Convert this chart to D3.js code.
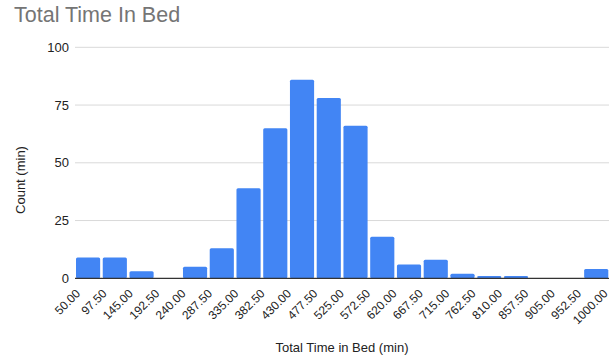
<!DOCTYPE html>
<html>
<head>
<meta charset="utf-8">
<script src="https://cdn.jsdelivr.net/npm/d3@7"></script>
<style>
  html, body { margin: 0; padding: 0; background: #fff; }
  svg { display: block; font-family: "Liberation Sans", Arial, sans-serif; }
</style>
</head>
<body>
<svg id="chart" width="611" height="357"></svg>
<script>
// Histogram of total time in bed: bin edges (minutes) and counts per bin
const binEdges = [50, 97.5, 145, 192.5, 240, 287.5, 335, 382.5, 430, 477.5, 525,
                  572.5, 620, 667.5, 715, 762.5, 810, 857.5, 905, 952.5, 1000];
const counts = [9, 9, 3, 0, 5, 13, 39, 65, 86, 78, 66, 18, 6, 8, 2, 1, 1, 0, 0, 4];
const yTicks = [0, 25, 50, 75, 100];
const titleText = "Total Time In Bed";
const xTitle = "Total Time in Bed (min)";
const yTitle = "Count (min)";

const svg = d3.select("#chart");
const plotLeft = 74.7, plotRight = 609.6, plotTop = 47.3, plotBottom = 278.3;

const x = d3.scaleLinear().domain([50, 1000]).range([plotLeft, plotRight]);
const y = d3.scaleLinear().domain([0, 100]).range([plotBottom, plotTop]);
// Bucket boundary labels sit on their own evenly spaced positions
const xLabel = d3.scalePoint().domain(binEdges).range([81, 608.4]);

// Title
svg.append("text")
  .attr("x", 14).attr("y", 22)
  .attr("font-size", 21.5).attr("fill", "#757575")
  .text(titleText);

// Horizontal gridlines
svg.append("g").selectAll("line")
  .data(yTicks.filter(d => d > 0))
  .join("line")
  .attr("x1", 75).attr("x2", 609)
  .attr("y1", d => y(d)).attr("y2", d => y(d))
  .attr("stroke", "#d9d9d9").attr("stroke-width", 1);

// Y axis labels
const yAxis = d3.axisLeft(y).tickValues(yTicks).tickSize(0).tickPadding(0);
const gy = svg.append("g").attr("transform", "translate(69,0)").call(yAxis);
gy.select(".domain").remove();
gy.selectAll("text").attr("font-size", 13).attr("fill", "#222")
  .attr("font-family", "Liberation Sans, Arial, sans-serif");

// Bars
const bins = counts.map((c, i) => ({ x0: binEdges[i], x1: binEdges[i + 1], c }));
svg.append("g").selectAll("rect")
  .data(bins.filter(d => d.c > 0))
  .join("rect")
  .attr("x", d => x(d.x0) + 1.3)
  .attr("width", d => x(d.x1) - x(d.x0) - 2.6)
  .attr("y", d => y(d.c))
  .attr("height", d => y(0) - y(d.c))
  .attr("rx", 1.5)
  .attr("fill", "#4285f4");

// Baseline
svg.append("line")
  .attr("x1", 75).attr("x2", 609)
  .attr("y1", y(0)).attr("y2", y(0))
  .attr("stroke", "#333").attr("stroke-width", 1.2);

// X tick labels at bin boundaries, rotated
svg.append("g").selectAll("text")
  .data(binEdges)
  .join("text")
  .attr("transform", d => `translate(${xLabel(d)},${plotBottom + 16}) rotate(-45)`)
  .attr("text-anchor", "end")
  .attr("font-size", 12)
  .attr("fill", "#222")
  .text(d => d3.format(".2f")(d));

// Axis titles
svg.append("text")
  .attr("x", 342).attr("y", 352)
  .attr("text-anchor", "middle")
  .attr("font-size", 13).attr("fill", "#222")
  .text(xTitle);

svg.append("text")
  .attr("transform", "translate(25,180) rotate(-90)")
  .attr("text-anchor", "middle")
  .attr("font-size", 13).attr("fill", "#222")
  .text(yTitle);
</script>
</body>
</html>
